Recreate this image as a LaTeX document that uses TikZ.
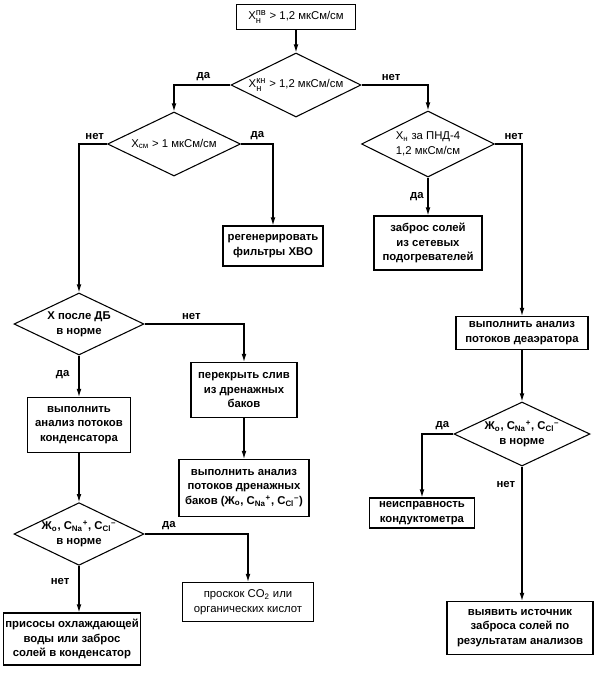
\documentclass[tikz,border=0pt]{standalone}
\usepackage{fontspec}
\setmainfont{Liberation Sans}
\usetikzlibrary{positioning,shapes.geometric,arrows.meta}
\newcommand{\xind}[2]{$_{\mbox{\scriptsize#1}}^{\mbox{\scriptsize#2}}$}
\newcommand{\xsub}[1]{\textsubscript{#1}}
\newcommand{\xsup}[1]{\textsuperscript{#1}}
\tikzset{
  box/.style={draw, thick, align=center, inner sep=1pt,
    font=\fontsize{8.5}{11}\selectfont\bfseries},
  dia/.style={draw, thick, diamond, aspect=2, inner sep=0pt, align=center,
    font=\fontsize{8.5}{11}\selectfont},
  lbl/.style={inner sep=1pt, font=\fontsize{8.5}{10}\selectfont\bfseries},
  arr/.style={thick, -{Latex[length=6pt,width=3.5pt]}}
}
\begin{document}
\begin{tikzpicture}[x=0.75pt, y=-0.75pt]
        \useasboundingbox (0,0) rectangle (594,676);
        % начало
        \node[box, minimum width=119*0.75pt, minimum height=25*0.75pt, font=\fontsize{8.5}{11}\selectfont] (start) at (296,17) {Х\xind{н}{пв} > 1,2 мкСм/см};
        \node[dia, minimum width=130*0.75pt, minimum height=64*0.75pt] (d1) at (296,85) {Х\xind{н}{кн} > 1,2 мкСм/см};
        % левая ветвь
        \node[dia, minimum width=133*0.75pt, minimum height=64*0.75pt] (d2) at (174,144) {Х\xsub{см} > 1 мкСм/см};
        \node[box, minimum width=100*0.75pt, minimum height=40*0.75pt] (regen) at (273,246) {регенерировать\\фильтры ХВО};
        \node[dia, minimum width=130*0.75pt, minimum height=62*0.75pt, font=\fontsize{8.5}{11}\selectfont\bfseries] (d4) at (79,324) {Х после ДБ\\в норме};
        \node[box, minimum width=106*0.75pt, minimum height=55*0.75pt] (perekr) at (244,390) {перекрыть слив\\из дренажных\\баков};
        \node[box, minimum width=130*0.75pt, minimum height=57*0.75pt] (drenazh) at (244,488) {выполнить анализ\\потоков дренажных\\баков (Ж\xsub{o}, C\xsub{Na}\xsup{+}, C\xsub{Cl}\xsup{--})};
        \node[box, minimum width=103*0.75pt, minimum height=55*0.75pt] (kondens) at (79,425) {выполнить\\анализ потоков\\конденсатора};
        \node[dia, minimum width=130*0.75pt, minimum height=62*0.75pt, font=\fontsize{8.5}{11}\selectfont\bfseries] (d5) at (79,534) {Ж\xsub{o}, C\xsub{Na}\xsup{+}, C\xsub{Cl}\xsup{--}\\в норме};
        \node[box, minimum width=131*0.75pt, minimum height=39*0.75pt, font=\fontsize{8.5}{11}\selectfont] (proskok) at (248,602) {проскок CO\xsub{2} или\\органических кислот};
        \node[box, minimum width=137*0.75pt, minimum height=52*0.75pt] (prisosy) at (72,639) {присосы охлаждающей\\воды или заброс\\солей в конденсатор};
        % правая ветвь
        \node[dia, minimum width=133*0.75pt, minimum height=66*0.75pt] (d3) at (428,144) {Х\xsub{н} за ПНД-4\\1,2 мкСм/см};
        \node[box, minimum width=108*0.75pt, minimum height=54*0.75pt] (zabros) at (428,243) {заброс солей\\из сетевых\\подогревателей};
        \node[box, minimum width=132*0.75pt, minimum height=33*0.75pt] (deaer) at (522,333) {выполнить анализ\\потоков деаэратора};
        \node[dia, minimum width=136*0.75pt, minimum height=64*0.75pt, font=\fontsize{8.5}{11}\selectfont\bfseries] (d6) at (522,434) {Ж\xsub{o}, C\xsub{Na}\xsup{+}, C\xsub{Cl}\xsup{--}\\в норме};
        \node[box, minimum width=105*0.75pt, minimum height=30*0.75pt] (neispr) at (422,513) {неисправность\\кондуктометра};
        \node[box, minimum width=146*0.75pt, minimum height=53*0.75pt] (vyyavit) at (520,628) {выявить источник\\заброса солей по\\результатам анализов};
        % связи
        \draw[arr] (start) -- (d1);
        \draw[arr] (d1.west) -| (d2.north);
        \draw[arr] (d1.east) -| (d3.north);
        \draw[arr] (d2.west) -| (d4.north);
        \draw[arr] (d2.east) -| (regen.north);
        \draw[arr] (d3.south) -- (zabros.north);
        \draw[arr] (d3.east) -| (deaer.north);
        \draw[arr] (d4.east) -| (perekr.north);
        \draw[arr] (d4.south) -- (kondens.north);
        \draw[arr] (perekr) -- (drenazh);
        \draw[arr] (kondens) -- (d5);
        \draw[arr] (d5.east) -| (proskok.north);
        \draw[arr] (d5.south) -- (d5.south |- prisosy.north);
        \draw[arr] (deaer) -- (d6);
        \draw[arr] (d6.west) -| (neispr.north);
        \draw[arr] (d6.south) -- (d6.south |- vyyavit.north);
        % подписи
        \node[lbl, above left=2pt and 14pt of d1.west] (l1) {да};
        \node[lbl, above right=2pt and 14pt of d1.east] (l2) {нет};
        \node[lbl, above left=2pt and 1pt of d2.west] (l3) {нет};
        \node[lbl, above right=2pt and 6pt of d2.east] (l4) {да};
        \node[lbl, below left=10pt and 2pt of d3.south] (l5) {да};
        \node[lbl, above right=2pt and 6pt of d3.east] (l6) {нет};
        \node[lbl, above right=2pt and 27pt of d4.east] (l7) {нет};
        \node[lbl, below left=10pt and 6pt of d4.south] (l8) {да};
        \node[lbl, above right=2pt and 12pt of d5.east] (l9) {да};
        \node[lbl, below left=8pt and 6pt of d5.south] (l10) {нет};
        \node[lbl, above left=2pt and 2pt of d6.west] (l11) {да};
        \node[lbl, below left=10pt and 4pt of d6.south] (l12) {нет};
\end{tikzpicture}
\end{document}
